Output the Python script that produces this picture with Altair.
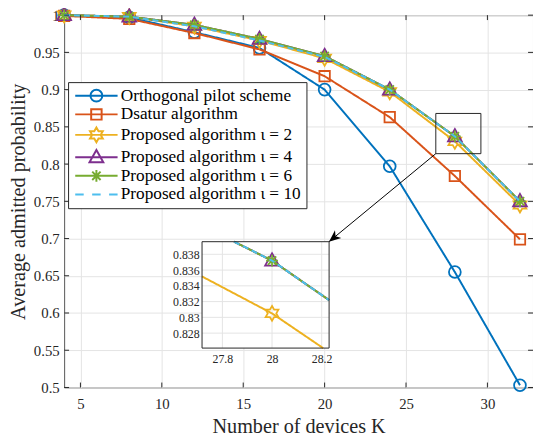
import math
import altair as alt
import pandas as pd

# ---------------- data ----------------
K = [4, 8, 12, 16, 20, 24, 28, 32]
orthogonal = [1.000, 0.997, 0.977, 0.956, 0.900, 0.797, 0.655, 0.503]
dsatur     = [0.999, 0.995, 0.976, 0.954, 0.918, 0.863, 0.784, 0.699]
iota2      = [1.000, 0.998, 0.985, 0.966, 0.942, 0.897, 0.8305, 0.745]
iota4      = [1.000, 0.998, 0.987, 0.968, 0.945, 0.900, 0.8372, 0.750]
iota6      = [1.000, 0.998, 0.987, 0.968, 0.945, 0.900, 0.8372, 0.750]
iota10     = [1.000, 0.998, 0.985, 0.966, 0.944, 0.900, 0.8372, 0.750]

names = ["Orthogonal pilot scheme", "Dsatur algorithm",
         "Proposed algorithm \u03b9 = 2", "Proposed algorithm \u03b9 = 4",
         "Proposed algorithm \u03b9 = 6", "Proposed algorithm \u03b9 = 10"]
series_values = [orthogonal, dsatur, iota2, iota4, iota6, iota10]
colors = ["#0072BD", "#D95319", "#EDB120", "#7E2F8E", "#77AC30", "#4DBEEE"]
markers = ["circle", "square", "hexagram", "triangle", "asterisk", None]

x_ticks = [5, 10, 15, 20, 25, 30]
y_ticks = [0.5, 0.55, 0.6, 0.65, 0.7, 0.75, 0.8, 0.85, 0.9, 0.95, 1.0]
x_domain = [4, 32.8]
y_domain = [0.5, 1.0]

inset_x_ticks = [27.8, 28.0, 28.2]
inset_y_ticks = [0.828, 0.830, 0.832, 0.834, 0.836, 0.838]
inset_x_domain = [27.718, 28.23]
inset_y_domain = [0.8261, 0.8396]
inset_series = [2, 3, 4, 5]

zoom_box_x = [26.83, 29.6]
zoom_box_y = [0.814, 0.868]
arrow_from = [26.83, 0.814]
arrow_to = [20.27, 0.6958]

# ---------------- layout / style ----------------
W, H = 476, 378
FONT = "Liberation Serif, Times New Roman, DejaVu Serif, serif"
TXT = "#262626"
GRID = "#e4e4e4"
inset_px_x = [140, 269]
inset_px_y = [338, 230]


def circle_path(r, cx=0.0):
    return f"M{cx + r:.4f},0A{r:.4f},{r:.4f} 0 1,1 {cx - r:.4f},0A{r:.4f},{r:.4f} 0 1,1 {cx + r:.4f},0Z"


def shape_path(kind, s, cx=0.0):
    if kind == "circle":
        return circle_path(6 * s, cx)
    if kind == "square":
        h = 5.3 * s
        return f"M{cx - h:.4f},{-h:.4f}H{cx + h:.4f}V{h:.4f}H{cx - h:.4f}Z"
    if kind == "triangle":
        w, t, b = 7 * s, 7.5 * s, 5 * s
        return f"M{cx:.4f},{-t:.4f}L{cx + w:.4f},{b:.4f}L{cx - w:.4f},{b:.4f}Z"
    if kind == "hexagram":
        R, r = 7.5 * s, 7.5 * s / math.sqrt(3)
        pts = []
        for k in range(6):
            a = math.radians(-90 + 60 * k)
            pts.append((cx + R * math.cos(a), R * math.sin(a)))
            a2 = math.radians(-60 + 60 * k)
            pts.append((cx + r * math.cos(a2), r * math.sin(a2)))
        return "M" + "L".join(f"{px:.4f},{py:.4f}" for px, py in pts) + "Z"
    if kind == "asterisk":
        r = 6 * s
        d = r * math.sqrt(0.5)
        return (f"M{cx - r:.4f},0H{cx + r:.4f}M{cx:.4f},{-r:.4f}V{r:.4f}"
                f"M{cx - d:.4f},{-d:.4f}L{cx + d:.4f},{d:.4f}M{cx - d:.4f},{d:.4f}L{cx + d:.4f},{-d:.4f}")
    return ""


# legend symbols: a small nominal symbol size keeps rows tight; the path runs wider
LEG_LEN = 43.0
LEG_U = 6.5                      # px per path unit  (symbolSize = (2*LEG_U)^2)
leg_end = LEG_LEN / LEG_U - 1
leg_mid = (LEG_LEN / 2) / LEG_U - 1
legend_paths = []
for m in markers:
    if m is None:
        seg = LEG_LEN / 5 / LEG_U
        legend_paths.append(f"M-1,0H{-1 + seg:.4f}M{-1 + 2 * seg:.4f},0H{-1 + 3 * seg:.4f}"
                            f"M{-1 + 4 * seg:.4f},0H{leg_end:.4f}")
    else:
        legend_paths.append(f"M-1,0H{leg_end:.4f}" + shape_path(m, 1 / LEG_U, leg_mid))

# ---------------- encodings ----------------
xs = alt.Scale(domain=x_domain, nice=False, zero=False)
ys = alt.Scale(domain=y_domain, nice=False, zero=False)
x_axis = alt.Axis(values=x_ticks, format="~g", grid=True, gridColor=GRID, ticks=False,
                  domain=False, labelFont=FONT, labelFontSize=15, labelColor=TXT,
                  labelPadding=9, labelFlush=False, titleFont=FONT, titleFontSize=20.5,
                  titleFontWeight="normal", titleColor=TXT, titlePadding=6)
y_axis = alt.Axis(values=y_ticks, format="~g", grid=True, gridColor=GRID, ticks=False,
                  domain=False, labelFont=FONT, labelFontSize=15, labelColor=TXT,
                  labelPadding=5, labelFlush=False, labelOverlap=False, titleFont=FONT,
                  titleFontSize=20.5, titleFontWeight="normal", titleColor=TXT, titlePadding=5)


def mx(f="x"):
    return alt.X(f"{f}:Q", scale=xs, axis=x_axis, title="Number of devices K")


def my(f="y"):
    return alt.Y(f"{f}:Q", scale=ys, axis=y_axis, title="Average admitted probability")


ixs = alt.Scale(domain=inset_x_domain, range=inset_px_x, nice=False, zero=False)
iys = alt.Scale(domain=inset_y_domain, range=inset_px_y, nice=False, zero=False)
ix_axis = alt.Axis(values=inset_x_ticks, format="~g", orient="bottom", offset=-(H - inset_px_y[0]),
                   grid=False, ticks=False, domain=False, labelFont=FONT, labelFontSize=12,
                   labelColor=TXT, labelPadding=6, labelFlush=False, title=None)
iy_axis = alt.Axis(values=inset_y_ticks, format="~g", orient="left", offset=-inset_px_x[0],
                   grid=False, ticks=False, domain=False, labelFont=FONT, labelFontSize=12,
                   labelColor=TXT, labelPadding=3, labelFlush=False, labelOverlap=False, title=None)


def ix(f="x"):
    return alt.X(f"{f}:Q", scale=ixs, axis=ix_axis)


def iy(f="y"):
    return alt.Y(f"{f}:Q", scale=iys, axis=iy_axis)


# ---------------- main layers ----------------
main_layers = []
for i, (nm, vals) in enumerate(zip(names, series_values)):
    df = pd.DataFrame({"x": K, "y": vals})
    dash = [6, 4] if markers[i] is None else [1, 0]
    main_layers.append(alt.Chart(df).mark_line(color=colors[i], strokeWidth=2, strokeDash=dash)
                       .encode(x=mx(), y=my()))
    if markers[i] is not None:
        main_layers.append(alt.Chart(df).mark_point(shape=shape_path(markers[i], 1), size=4,
                                                    filled=False, color=colors[i], strokeWidth=1.8,
                                                    opacity=1)
                           .encode(x=mx(), y=my()))

xt = pd.DataFrame({"x": x_ticks})
yt = pd.DataFrame({"y": y_ticks})
main_layers += [
    alt.Chart(xt).mark_rule(color=TXT, strokeWidth=1).encode(x=mx(), y=alt.value(H), y2=alt.value(H - 5)),
    alt.Chart(xt).mark_rule(color=TXT, strokeWidth=1).encode(x=mx(), y=alt.value(0), y2=alt.value(5)),
    alt.Chart(yt).mark_rule(color=TXT, strokeWidth=1).encode(y=my(), x=alt.value(0), x2=alt.value(5)),
    alt.Chart(yt).mark_rule(color=TXT, strokeWidth=1).encode(y=my(), x=alt.value(W), x2=alt.value(W - 5)),
]

box = pd.DataFrame({"x": [zoom_box_x[0]], "x2": [zoom_box_x[1]],
                    "y": [zoom_box_y[0]], "y2": [zoom_box_y[1]]})
main_layers.append(alt.Chart(box).mark_rect(fillOpacity=0, stroke=TXT, strokeWidth=1)
                   .encode(x=mx(), x2="x2:Q", y=my(), y2="y2:Q"))

arrow = pd.DataFrame({"x": [arrow_from[0]], "y": [arrow_from[1]],
                      "x2": [arrow_to[0]], "y2": [arrow_to[1]]})
main_layers.append(alt.Chart(arrow).mark_rule(color="black", strokeWidth=1)
                   .encode(x=mx(), y=my(), x2="x2:Q", y2="y2:Q"))
ppx = W / (x_domain[1] - x_domain[0])
ppy = H / (y_domain[1] - y_domain[0])
dxp = (arrow_to[0] - arrow_from[0]) * ppx
dyp = -(arrow_to[1] - arrow_from[1]) * ppy
ang = math.degrees(math.atan2(dxp, -dyp)) % 360
head = pd.DataFrame({"x": [arrow_to[0]], "y": [arrow_to[1]]})
main_layers.append(alt.Chart(head).mark_point(shape="M0,0L-0.42,1L0,0.72L0.42,1Z", size=576,
                                              filled=True, color="black", opacity=1, angle=ang)
                   .encode(x=mx(), y=my()))

legend_df = pd.DataFrame({"series": names})
leg = alt.Legend(orient="none", legendX=4, legendY=68, title=None, labelFont=FONT,
                 labelFontSize=17.5, labelColor="black", symbolSize=(2 * LEG_U) ** 2,
                 symbolStrokeWidth=2, strokeColor=TXT, fillColor="white", padding=5,
                 rowPadding=-1.2, labelOffset=LEG_LEN + 1 - 2 * LEG_U, labelLimit=400,
                 cornerRadius=0)
main_layers.append(alt.Chart(legend_df).transform_filter("false").mark_point(filled=False, opacity=1)
                   .encode(color=alt.Color("series:N", scale=alt.Scale(domain=names, range=colors), legend=leg),
                           shape=alt.Shape("series:N", scale=alt.Scale(domain=names, range=legend_paths), legend=leg)))

main = alt.layer(*main_layers)

# ---------------- inset layers ----------------
def clip(x0, y0, x1, y1, xmin, xmax, ymin, ymax):
    dx, dy = x1 - x0, y1 - y0
    u0, u1 = 0.0, 1.0
    for p, q in zip([-dx, dx, -dy, dy], [x0 - xmin, xmax - x0, y0 - ymin, ymax - y0]):
        if p == 0:
            if q < 0:
                return None
        else:
            t = q / p
            if p < 0:
                u0 = max(u0, t)
            else:
                u1 = min(u1, t)
    if u0 > u1:
        return None
    return (x0 + u0 * dx, y0 + u0 * dy, x0 + u1 * dx, y0 + u1 * dy)


frame = pd.DataFrame({"x": [inset_x_domain[0]], "x2": [inset_x_domain[1]],
                      "y": [inset_y_domain[0]], "y2": [inset_y_domain[1]]})
inset_layers = [alt.Chart(frame).mark_rect(fill="white", strokeWidth=0)
                .encode(x=ix(), x2="x2:Q", y=iy(), y2="y2:Q")]
ixg = pd.DataFrame({"x": inset_x_ticks, "y": inset_y_domain[0], "y2": inset_y_domain[1]})
iyg = pd.DataFrame({"y": inset_y_ticks, "x": inset_x_domain[0], "x2": inset_x_domain[1]})
inset_layers.append(alt.Chart(ixg).mark_rule(color=GRID, strokeWidth=1)
                    .encode(x=ix(), y=iy(), y2="y2:Q"))
inset_layers.append(alt.Chart(iyg).mark_rule(color=GRID, strokeWidth=1)
                    .encode(y=iy(), x=ix(), x2="x2:Q"))

for i in inset_series:
    vals = series_values[i]
    pts = []
    for j in range(len(K) - 1):
        c = clip(K[j], vals[j], K[j + 1], vals[j + 1], inset_x_domain[0], inset_x_domain[1],
                 inset_y_domain[0], inset_y_domain[1])
        if c is None:
            continue
        if not pts or (abs(pts[-1][0] - c[0]) > 1e-9 or abs(pts[-1][1] - c[1]) > 1e-9):
            pts.append((c[0], c[1]))
        pts.append((c[2], c[3]))
    df = pd.DataFrame({"x": [p[0] for p in pts], "y": [p[1] for p in pts], "o": list(range(len(pts)))})
    dash = [6, 4] if markers[i] is None else [1, 0]
    inset_layers.append(alt.Chart(df).mark_line(color=colors[i], strokeWidth=2, strokeDash=dash)
                        .encode(x=ix(), y=iy(), order="o:Q"))
    if markers[i] is not None:
        inside = [(k, v) for k, v in zip(K, vals)
                  if inset_x_domain[0] <= k <= inset_x_domain[1] and inset_y_domain[0] <= v <= inset_y_domain[1]]
        pdf = pd.DataFrame({"x": [p[0] for p in inside], "y": [p[1] for p in inside]})
        inset_layers.append(alt.Chart(pdf).mark_point(shape=shape_path(markers[i], 1), size=4,
                                                      filled=False, color=colors[i], strokeWidth=1.8,
                                                      opacity=1)
                            .encode(x=ix(), y=iy()))

inset_layers.append(alt.Chart(frame).mark_rect(fillOpacity=0, stroke=TXT, strokeWidth=1)
                    .encode(x=ix(), x2="x2:Q", y=iy(), y2="y2:Q"))
inset = alt.layer(*inset_layers)

chart = (alt.layer(main, inset)
         .resolve_scale(x="independent", y="independent")
         .properties(width=W, height=H,
                     autosize=alt.AutoSizeParams(type="none"),
                     padding={"left": 57, "top": 4, "right": 0, "bottom": 46})
         .configure_view(stroke="#555555", strokeWidth=1))

chart.save("out.html", embed_options={"renderer": "svg", "actions": False})
